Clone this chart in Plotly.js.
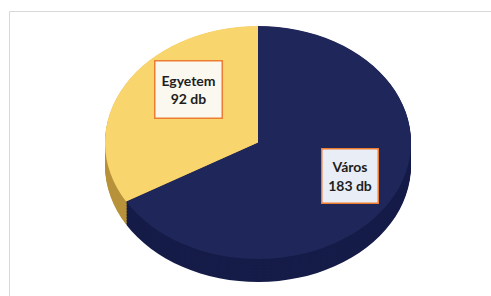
<!DOCTYPE html>
<html>
<head>
<meta charset="utf-8">
<script src="https://cdn.plot.ly/plotly-3.0.1.min.js"></script>
<style>
  html, body { margin: 0; padding: 0; background: #ffffff; }
  #chart { width: 491px; height: 296px; }
</style>
</head>
<body>
<div id="chart"></div>
<script>
// ---- data ----
const labels = ['Város', 'Egyetem'];
const values = [183, 92];
const unit = 'db';

// ---- styles ----
const topColors = ['#1F2659', '#F9D56E'];
const sideColors = ['#161C48', '#B8923A'];
const boxFill = ['#E9EDF5', '#FBF8F0'];
const labelPos = [[0.712, 0.404], [0.383, 0.699]];
const labelSize = [[55, 53], [66, 56]];

// ellipse target (pixels)
const ell = { cx: 258, cy: 142.5, rx: 153, ry: 116.5 };
const sideOffsets = [];
for (let d = 23; d > 0; d -= 1.5) sideOffsets.push(d);

const traces = [];
sideOffsets.forEach(() => {
  traces.push({
    type: 'pie', labels: labels, values: values, sort: false,
    direction: 'clockwise', rotation: 0,
    marker: { colors: sideColors, line: { width: 0 } },
    textinfo: 'none', hoverinfo: 'skip', showlegend: false
  });
});
traces.push({
  type: 'pie', labels: labels, values: values, sort: false,
  direction: 'clockwise', rotation: 0,
  marker: { colors: topColors, line: { width: 0 } },
  textinfo: 'none', hoverinfo: 'skip', showlegend: false
});

const annotations = labels.map((lab, i) => ({
  xref: 'paper', yref: 'paper',
  x: labelPos[i][0], y: labelPos[i][1],
  xanchor: 'center', yanchor: 'middle',
  text: '<b>' + lab + '<br>' + values[i] + ' ' + unit + '</b>',
  showarrow: false, align: 'center', valign: 'middle',
  width: labelSize[i][0], height: labelSize[i][1],
  bgcolor: boxFill[i], bordercolor: '#ED7D31', borderwidth: 1.5, borderpad: 0,
  font: { family: 'Lato, "Open Sans", sans-serif', size: 14, color: '#1E1E1E' }
}));

const layout = {
  width: 491, height: 296,
  margin: { l: 0, r: 0, t: 0, b: 0 },
  paper_bgcolor: '#ffffff',
  showlegend: false,
  annotations: annotations,
  shapes: [{
    type: 'rect', xref: 'paper', yref: 'paper',
    x0: 9.5 / 491, y0: 1 - 11.5 / 296, x1: 1.2, y1: -0.2,
    line: { color: '#D9D9D9', width: 1 }, fillcolor: 'rgba(0,0,0,0)'
  }]
};

Plotly.newPlot('chart', traces, layout, { staticPlot: true, displayModeBar: false }).then(() => {
  const groups = document.querySelectorAll('.pielayer g.trace');
  groups.forEach((g, i) => {
    const bb = g.getBBox();
    const cx = bb.x + bb.width / 2;
    const cy = bb.y + bb.height / 2;
    const r = bb.width / 2;
    const dy = i < sideOffsets.length ? sideOffsets[i] : 0;
    g.setAttribute('transform',
      'translate(' + ell.cx + ',' + (ell.cy + dy) + ') scale(' + (ell.rx / r) + ',' + (ell.ry / r) + ') translate(' + (-cx) + ',' + (-cy) + ')');
  });
});
</script>
</body>
</html>
